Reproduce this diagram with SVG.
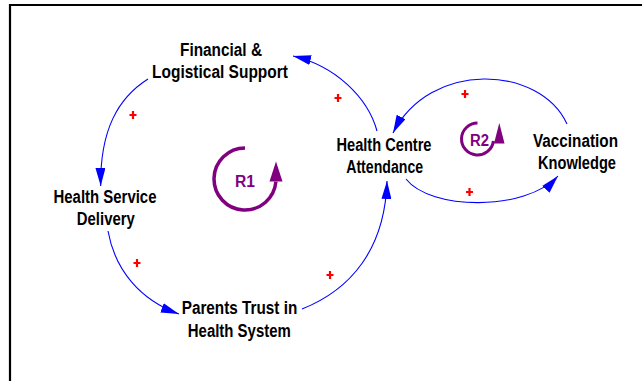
<svg xmlns="http://www.w3.org/2000/svg" width="642" height="381" viewBox="0 0 642 381">
  <defs>
    <style>
      .lbl { font-family: "Liberation Sans", Arial, sans-serif; font-weight: bold; font-size: 18px; fill: #000; text-anchor: middle; }
      .loop { font-family: "Liberation Sans", Arial, sans-serif; font-weight: bold; font-size: 16px; fill: #800080; text-anchor: middle; }
      .link { fill: none; stroke: #0000FF; stroke-width: 1.1; marker-end: url(#ah); }
      .plus { stroke: #FF0000; stroke-width: 2.2; fill: none; }
      .loopArc { fill: none; stroke: #800080; stroke-width: 3.5; }
      .loopHead { fill: #800080; }
    </style>
    <marker id="ah" viewBox="0 0 18 10" refX="18" refY="5" markerWidth="18" markerHeight="10" markerUnits="userSpaceOnUse" orient="auto">
      <path d="M0,0 L18,5 L0,10 Z" fill="#0000FF"/>
    </marker>
    <path id="plusShape" d="M-3.5,0 H3.5 M0,-4 V4"/>
  </defs>
  <rect width="642" height="381" fill="#FFFFFF"/>
  <path d="M10,381 V5 H642" fill="none" stroke="#000" stroke-width="2.2"/>

  <g id="connectors">
    <path class="link" d="M377,131 C368,98 336,66 293,56"/>
    <path class="link" d="M148,79 C118,98 100,130 100.7,186"/>
    <path class="link" d="M108,231 C115,270 140,300 179,314"/>
    <path class="link" d="M302,309 C350,290 385,250 387,181"/>
    <path class="link" d="M406,179 C430,210 525,212 558,176"/>
    <path class="link" d="M567,124 C540,65 430,60 393,133"/>
  </g>

  <g id="polarities" class="plus">
    <use href="#plusShape" x="133" y="115"/>
    <use href="#plusShape" x="338" y="98"/>
    <use href="#plusShape" x="137" y="263"/>
    <use href="#plusShape" x="330" y="275"/>
    <use href="#plusShape" x="465" y="94"/>
    <use href="#plusShape" x="469.5" y="192"/>
  </g>

  <g id="loop-R1">
    <path class="loopArc" d="M245,148 A31,31 0 1 0 275.9,181.7"/>
    <path class="loopHead" d="M269.5,181.5 L282.5,181.5 L276,161.5 Z"/>
    <text class="loop" x="245" y="186.5" textLength="20" lengthAdjust="spacingAndGlyphs">R1</text>
  </g>

  <g id="loop-R2">
    <path class="loopArc" style="stroke-width:3" d="M477.5,123 A16,16 0 1 0 493.4,141"/>
    <path class="loopHead" d="M494,143.5 L504.5,143.5 L499.3,123 Z"/>
    <text class="loop" x="479.5" y="146" textLength="19" lengthAdjust="spacingAndGlyphs">R2</text>
  </g>

  <g id="node-financial">
    <text class="lbl" x="221" y="56" textLength="82" lengthAdjust="spacingAndGlyphs">Financial &amp;</text>
    <text class="lbl" x="220" y="78" textLength="136" lengthAdjust="spacingAndGlyphs">Logistical Support</text>
  </g>
  <g id="node-health-service">
    <text class="lbl" x="105" y="203.3" textLength="103" lengthAdjust="spacingAndGlyphs">Health Service</text>
    <text class="lbl" x="105.8" y="225" textLength="58" lengthAdjust="spacingAndGlyphs">Delivery</text>
  </g>
  <g id="node-parents-trust">
    <text class="lbl" x="239.5" y="314.3" textLength="115.6" lengthAdjust="spacingAndGlyphs">Parents Trust in</text>
    <text class="lbl" x="239.3" y="337.3" textLength="103" lengthAdjust="spacingAndGlyphs">Health System</text>
  </g>
  <g id="node-attendance">
    <text class="lbl" x="384" y="151" textLength="95" lengthAdjust="spacingAndGlyphs">Health Centre</text>
    <text class="lbl" x="384.7" y="173.3" textLength="77" lengthAdjust="spacingAndGlyphs">Attendance</text>
  </g>
  <g id="node-vaccination">
    <text class="lbl" x="575.5" y="146.7" textLength="85" lengthAdjust="spacingAndGlyphs">Vaccination</text>
    <text class="lbl" x="577" y="169.3" textLength="78" lengthAdjust="spacingAndGlyphs">Knowledge</text>
  </g>
</svg>
